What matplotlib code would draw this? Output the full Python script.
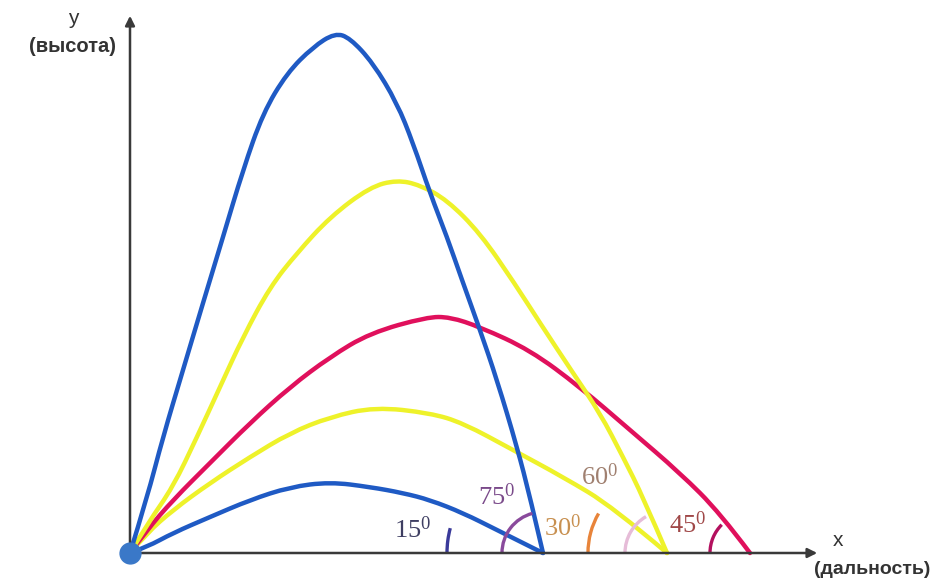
import matplotlib.pyplot as plt
from matplotlib.patches import Arc, PathPatch
from matplotlib.path import Path

# trajectories: distance / height (pixel units)
x15 = [0, 17, 43, 80, 120, 160, 200, 240, 273, 300, 333, 367, 413]
y15 = [0, 6, 20, 36, 53, 66, 71, 66, 60, 53, 40, 23, 0]

x30 = [0, 17, 43, 80, 120, 160, 200, 245, 300, 333, 383, 433, 483, 537]
y30 = [0, 20, 43, 70, 96, 120, 136, 146, 140, 130, 103, 76, 46, 0]

x45 = [0, 17, 43, 80, 120, 160, 200, 240, 297, 320, 350, 400, 450, 500, 550, 590, 620]
y45 = [0, 23, 53, 90, 130, 166, 196, 220, 236, 236, 226, 203, 166, 123, 80, 40, 0]

x60 = [0, 18, 43, 67, 90, 113, 140, 167, 200, 240, 267, 290, 317, 350, 385, 410, 443, 470, 493, 513, 537]
y60 = [0, 30, 66, 116, 166, 216, 266, 300, 336, 366, 373, 368, 353, 320, 269, 230, 180, 140, 96, 56, 0]

x75 = [0, 17, 33, 53, 73, 93, 113, 133, 157, 183, 205, 220, 243, 267, 283, 300, 317, 332, 350, 367, 387, 400, 413]
y75 = [0, 55, 116, 183, 250, 316, 383, 440, 480, 506, 520, 515, 490, 450, 410, 360, 316, 273, 223, 173, 106, 56, 0]

angles = [15, 30, 45, 60, 75]
curve_x = [x15, x30, x45, x60, x75]
curve_y = [y15, y30, y45, y60, y75]
curve_colors = ["#1f5ac4", "#eef22a", "#e0105c", "#eef22a", "#1f5ac4"]

# landing-angle marks: radius, label position, colours
arc_radius = [96, 79, 40, 42, 41]
arc_colors = ["#3a3a9a", "#e8843a", "#b3105e", "#e6bcd8", "#8a4a9c"]
label_pos = [(283, 23), (433, 25), (558, 28), (470, 76), (367, 56)]
label_colors = ["#3e3e62", "#c89050", "#a04848", "#a08070", "#7a4a8a"]


def smooth_path(xs, ys):
    # quadratic segments through the midpoints, read points act as control points
    pts = list(zip(xs, ys))
    verts = [pts[0]]
    codes = [Path.MOVETO]
    for i in range(1, len(pts) - 1):
        mid = ((pts[i][0] + pts[i + 1][0]) / 2, (pts[i][1] + pts[i + 1][1]) / 2)
        if i == len(pts) - 2:
            mid = pts[-1]
        verts += [pts[i], mid]
        codes += [Path.CURVE3, Path.CURVE3]
    return Path(verts, codes)


fig = plt.figure(figsize=(9.35, 5.83), dpi=100)
ax = fig.add_axes([0, 0, 1, 1])
ax.set_xlim(-130, 805)
ax.set_ylim(-30, 553)
ax.axis("off")

# axes with arrows
ax.annotate("", xy=(0, 540), xytext=(0, -2),
            arrowprops=dict(arrowstyle="-|>", color="#3a3a3a", lw=1.8, mutation_scale=14))
ax.annotate("", xy=(690, 0), xytext=(-2, 0),
            arrowprops=dict(arrowstyle="-|>", color="#3a3a3a", lw=1.8, mutation_scale=14))

for xs, ys, c in zip(curve_x, curve_y, curve_colors):
    ax.add_patch(PathPatch(smooth_path(xs, ys), facecolor="none", edgecolor=c,
                           lw=3.2, joinstyle="round", capstyle="round"))

for a, xs, r, ac, pos, lc in zip(angles, curve_x, arc_radius, arc_colors, label_pos, label_colors):
    ax.add_patch(Arc((xs[-1], 0), 2 * r, 2 * r, theta1=180 - a, theta2=180,
                     color=ac, lw=2.4))
    ax.text(pos[0], pos[1], r"$\mathregular{%d^0}$" % a, color=lc, fontsize=19,
            family="Liberation Serif", ha="center", va="center")

ax.plot([0], [0], "o", color="#3a78c8", markersize=15, zorder=5)

ax.text(-57, 535, "y", fontsize=15, color="#333333", ha="center", va="center",
        family="Liberation Sans")
ax.text(-57, 506, "(высота)", fontsize=14.5, color="#333333", ha="center", va="center",
        family="Liberation Sans", fontweight="bold")
ax.text(708, 13, "x", fontsize=15, color="#333333", ha="center", va="center",
        family="Liberation Sans")
ax.text(742, -17, "(дальность)", fontsize=14, color="#333333", ha="center", va="center",
        family="Liberation Sans", fontweight="bold")

fig.savefig("out.png", dpi=100)
